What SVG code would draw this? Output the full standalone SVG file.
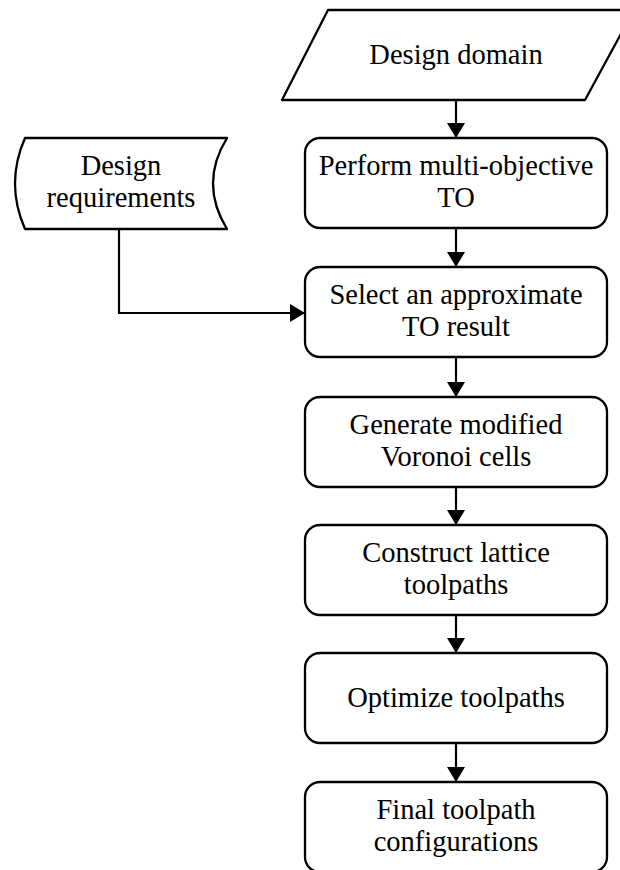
<svg xmlns="http://www.w3.org/2000/svg" width="620" height="870" viewBox="0 0 620 870">
<defs>
<style>
.shape{fill:#fff;stroke:#000;stroke-width:2.3;stroke-linejoin:round}
.conn{fill:none;stroke:#000;stroke-width:2.2}
text{font-family:"Liberation Serif","Times New Roman",serif;font-size:28.5px;fill:#000;text-anchor:middle}
</style>
<marker id="arr" viewBox="0 0 15 18" refX="15" refY="9" markerWidth="15" markerHeight="18" markerUnits="userSpaceOnUse" orient="auto">
<path d="M0,0 L15,9 L0,18 Z" fill="#000"/>
</marker>
</defs>
<rect width="620" height="870" fill="#fff"/>
<g id="connectors">
<path class="conn" d="M456,100 V138" marker-end="url(#arr)"/>
<path class="conn" d="M456,228 V267" marker-end="url(#arr)"/>
<path class="conn" d="M456,357 V397" marker-end="url(#arr)"/>
<path class="conn" d="M456,487 V525" marker-end="url(#arr)"/>
<path class="conn" d="M456,615 V653" marker-end="url(#arr)"/>
<path class="conn" d="M456,743 V782" marker-end="url(#arr)"/>
<path class="conn" d="M119,229 V313 H305" marker-end="url(#arr)"/>
</g>
<g id="design-domain">
<polygon class="shape" points="328,10 634,10 585,100 282,100"/>
<text x="456" y="64">Design domain</text>
</g>
<g id="design-requirements">
<path class="shape" d="M25,138 H227 Q199,183.5 227,229 H25 Q5,183.5 25,138 Z"/>
<text x="121" y="175">Design</text>
<text x="121" y="207">requirements</text>
</g>
<g id="perform-to">
<rect class="shape" x="305" y="138" width="302" height="90" rx="15"/>
<text x="456" y="175">Perform multi-objective</text>
<text x="456" y="207">TO</text>
</g>
<g id="select-result">
<rect class="shape" x="305" y="267" width="302" height="90" rx="15"/>
<text x="456" y="304">Select an approximate</text>
<text x="456" y="336">TO result</text>
</g>
<g id="generate-voronoi">
<rect class="shape" x="305" y="397" width="302" height="90" rx="15"/>
<text x="456" y="434">Generate modified</text>
<text x="456" y="466">Voronoi cells</text>
</g>
<g id="construct-lattice">
<rect class="shape" x="305" y="525" width="302" height="90" rx="15"/>
<text x="456" y="562">Construct lattice</text>
<text x="456" y="594">toolpaths</text>
</g>
<g id="optimize-toolpaths">
<rect class="shape" x="305" y="653" width="302" height="90" rx="15"/>
<text x="456" y="707">Optimize toolpaths</text>
</g>
<g id="final-config">
<rect class="shape" x="305" y="782" width="302" height="90" rx="15"/>
<text x="456" y="819">Final toolpath</text>
<text x="456" y="851">configurations</text>
</g>
</svg>
